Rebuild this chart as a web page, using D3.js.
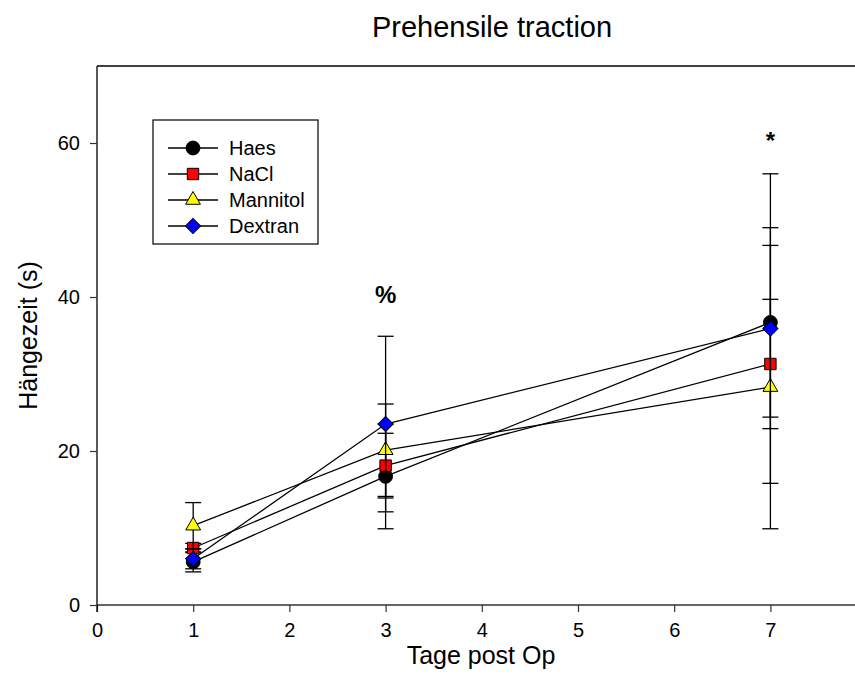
<!DOCTYPE html>
<html>
<head>
<meta charset="utf-8">
<script src="https://cdn.jsdelivr.net/npm/d3@7"></script>
<style>
  body { margin: 0; background: #fff; }
  text { font-family: "Liberation Sans", Arial, sans-serif; }
</style>
</head>
<body>
<div id="chart"></div>
<script>
// days after surgery and group means / error values
const days = [1, 3, 7];
const groups = ['Haes', 'NaCl', 'Mannitol', 'Dextran'];
const haesMean = [5.6, 16.7, 36.7];
const haesErr = [1.3, 6.8, 12.3];
const naclMean = [7.4, 18.1, 31.3];
const naclErr = [0.6, 4.2, 8.4];
const mannitolMean = [10.3, 20.1, 28.3];
const mannitolErr = [3.0, 6.0, 18.4];
const dextranMean = [6.0, 23.5, 35.9];
const dextranErr = [1.3, 11.4, 20.1];
const xTicks = [0, 1, 2, 3, 4, 5, 6, 7];
const yTicks = [0, 20, 40, 60];
const notes = [{ day: 3, value: 39.2, label: '%' }, { day: 7, value: 59.2, label: '*' }];

const width = 855;
const height = 695;
const margin = { left: 97, top: 66, bottom: 90 };

const x = d3.scaleLinear().domain([0, 8]).range([margin.left, margin.left + 8 * 96.2]);
const y = d3.scaleLinear().domain([0, 70]).range([height - margin.bottom, margin.top]);

const series = [
  { name: groups[0], mean: haesMean, err: haesErr, fill: '#000000', symbol: d3.symbolCircle, size: 150, rot: 0 },
  { name: groups[1], mean: naclMean, err: naclErr, fill: '#ff0000', symbol: d3.symbolSquare, size: 130, rot: 0 },
  { name: groups[2], mean: mannitolMean, err: mannitolErr, fill: '#ffff00', symbol: d3.symbolTriangle, size: 95, rot: 0 },
  { name: groups[3], mean: dextranMean, err: dextranErr, fill: '#0000ff', symbol: d3.symbolSquare, size: 115, rot: 45 }
];

const svg = d3.select('#chart')
  .append('svg')
  .attr('width', width)
  .attr('height', height);

// title
svg.append('text')
  .attr('x', 492)
  .attr('y', 37)
  .attr('text-anchor', 'middle')
  .style('font-size', '29px')
  .text('Prehensile traction');

// top border of the frame
svg.append('line')
  .attr('x1', x(0)).attr('x2', width)
  .attr('y1', y(70)).attr('y2', y(70))
  .attr('stroke', '#000').attr('stroke-width', 1.3);

const xAxis = svg.append('g')
  .attr('transform', `translate(0, ${y(0)})`)
  .call(d3.axisBottom(x).tickValues(xTicks).tickSize(7).tickPadding(11).tickSizeOuter(0));
xAxis.select('.domain').attr('stroke', '#333').attr('stroke-width', 1.5)
  .attr('d', `M${x(0)},0H${width}`);
xAxis.selectAll('.tick line').attr('stroke', '#333').attr('stroke-width', 1.2);
xAxis.selectAll('.tick text').style('font-size', '20px').attr('fill', '#000')
  .style('font-family', '"Liberation Sans", Arial, sans-serif');

const yAxis = svg.append('g')
  .attr('transform', `translate(${x(0)}, 0)`)
  .call(d3.axisLeft(y).tickValues(yTicks).tickSize(7).tickPadding(10).tickSizeOuter(0));
yAxis.select('.domain').attr('stroke', '#000').attr('stroke-width', 1.3)
  .attr('d', `M0,${y(70)}V${y(0) + 7}`);
yAxis.selectAll('.tick line').attr('stroke', '#333').attr('stroke-width', 1.2);
yAxis.selectAll('.tick text').style('font-size', '20px').attr('fill', '#000')
  .style('font-family', '"Liberation Sans", Arial, sans-serif');

// axis titles
svg.append('text')
  .attr('x', 481)
  .attr('y', 664)
  .attr('text-anchor', 'middle')
  .style('font-size', '25px')
  .text('Tage post Op');

svg.append('text')
  .attr('transform', `translate(37, ${y(35)}) rotate(-90)`)
  .attr('text-anchor', 'middle')
  .style('font-size', '25px')
  .text('Hängezeit (s)');

const line = d3.line()
  .x((d, i) => x(days[i]))
  .y(d => y(d));

series.forEach(s => {
  const g = svg.append('g').attr('class', 'series');

  // error bars
  days.forEach((day, i) => {
    const lo = s.mean[i] - s.err[i];
    const hi = s.mean[i] + s.err[i];
    g.append('line')
      .attr('x1', x(day)).attr('x2', x(day))
      .attr('y1', y(lo)).attr('y2', y(hi))
      .attr('stroke', '#000').attr('stroke-width', 1.3);
    [lo, hi].forEach(v => {
      g.append('line')
        .attr('x1', x(day) - 8).attr('x2', x(day) + 8)
        .attr('y1', y(v)).attr('y2', y(v))
        .attr('stroke', '#000').attr('stroke-width', 1.3);
    });
  });

  g.append('path')
    .datum(s.mean)
    .attr('d', line)
    .attr('fill', 'none')
    .attr('stroke', '#000')
    .attr('stroke-width', 1.3);

  g.selectAll('.dot')
    .data(s.mean)
    .enter()
    .append('path')
    .attr('class', 'dot')
    .attr('d', d3.symbol().type(s.symbol).size(s.size))
    .attr('transform', (d, i) => `translate(${x(days[i])}, ${y(d)}) rotate(${s.rot})`)
    .attr('fill', s.fill)
    .attr('stroke', '#000')
    .attr('stroke-width', 1);
});

// significance marks
svg.selectAll('.note')
  .data(notes)
  .enter()
  .append('text')
  .attr('class', 'note')
  .attr('x', d => x(d.day))
  .attr('y', d => y(d.value))
  .attr('text-anchor', 'middle')
  .style('font-size', '24px')
  .style('font-weight', 'bold')
  .text(d => d.label);

// legend
const legend = svg.append('g').attr('transform', 'translate(153, 120)');
legend.append('rect')
  .attr('width', 165).attr('height', 124)
  .attr('fill', '#fff')
  .attr('stroke', '#000').attr('stroke-width', 1.2);

const rows = legend.selectAll('.row')
  .data(series)
  .enter()
  .append('g')
  .attr('class', 'row')
  .attr('transform', (d, i) => `translate(0, ${28 + i * 26})`);

rows.append('line')
  .attr('x1', 15).attr('x2', 65)
  .attr('stroke', '#000').attr('stroke-width', 1.3);

rows.append('path')
  .attr('d', d => d3.symbol().type(d.symbol).size(d.size)())
  .attr('transform', d => `translate(40, 0) rotate(${d.rot})`)
  .attr('fill', d => d.fill)
  .attr('stroke', '#000')
  .attr('stroke-width', 1);

rows.append('text')
  .attr('x', 76)
  .attr('dy', '0.35em')
  .style('font-size', '20px')
  .text(d => d.name);
</script>
</body>
</html>
